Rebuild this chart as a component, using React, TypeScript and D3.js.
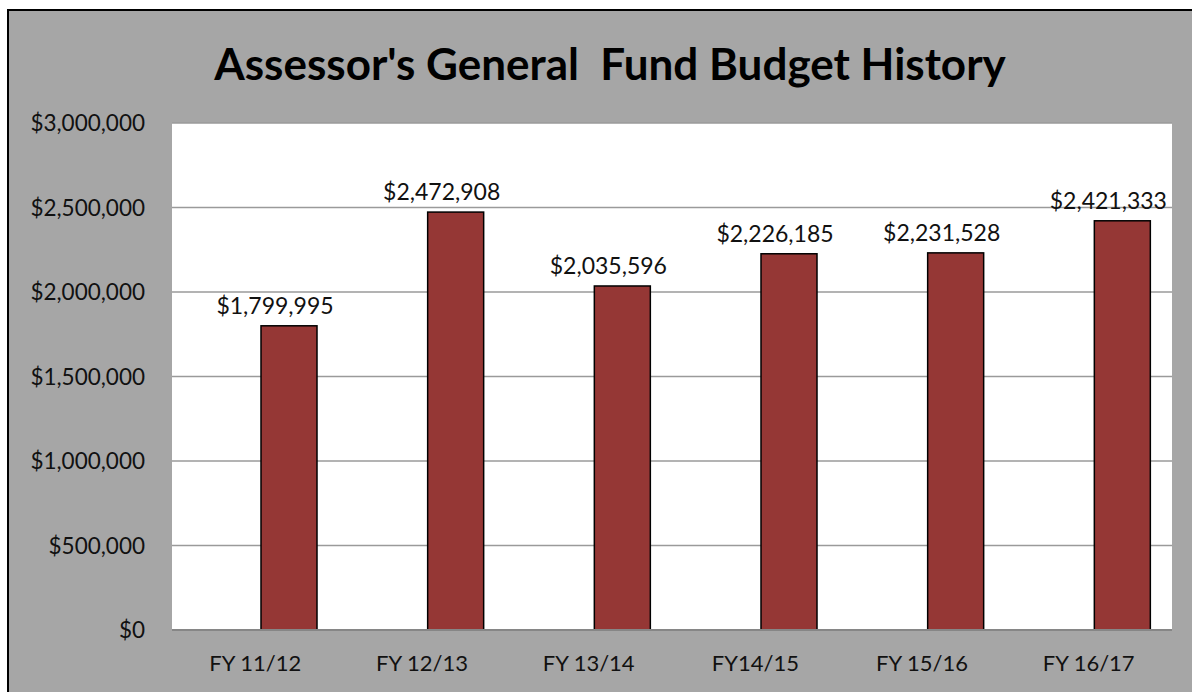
import React, { useRef, useEffect } from 'react';
import * as d3 from 'd3';

const categories = ['FY 11/12', 'FY 12/13', 'FY 13/14', 'FY14/15', 'FY 15/16', 'FY 16/17'];
const budget = [1799995, 2472908, 2035596, 2226185, 2231528, 2421333];
const yTicks = [0, 500000, 1000000, 1500000, 2000000, 2500000, 3000000];

const W = 1192;
const H = 692;
const FONT = 'Lato, "Open Sans", sans-serif';

const App = () => {
  const ref = useRef<SVGSVGElement>(null);

  useEffect(() => {
    const svg = d3.select(ref.current);
    svg.selectAll('*').remove();

    const left = 172, right = 1172, top = 123, bottom = 630;

    // outer chart frame
    svg.append('rect').attr('x', 0).attr('y', 0).attr('width', W).attr('height', H).attr('fill', '#ffffff');
    svg.append('rect').attr('x', 8).attr('y', 10).attr('width', W + 10).attr('height', H + 10)
      .attr('fill', '#a6a6a6').attr('stroke', '#000').attr('stroke-width', 2);

    svg.append('text')
      .attr('x', 610).attr('y', 80)
      .attr('text-anchor', 'middle')
      .attr('font-family', FONT).attr('font-weight', 'bold').attr('font-size', 44)
      .style('white-space', 'pre')
      .text("Assessor's General  Fund Budget History");

    const x = d3.scaleBand().domain(categories).range([left, right]).padding(0);
    const y = d3.scaleLinear().domain([0, 3000000]).range([bottom, top]);

    svg.append('rect').attr('x', left).attr('y', top).attr('width', right - left).attr('height', bottom - top).attr('fill', '#fff');

    // gridlines
    svg.append('g').selectAll('line').data(yTicks.filter(d => d > 0)).enter().append('line')
      .attr('x1', left).attr('x2', right)
      .attr('y1', d => y(d)).attr('y2', d => y(d))
      .attr('stroke', '#9a9a9a').attr('stroke-width', 1.5);

    const fmt = d3.format('$,');

    // y tick labels
    svg.append('g').selectAll('text').data(yTicks).enter().append('text')
      .attr('x', 145).attr('y', d => y(d) + 8)
      .attr('text-anchor', 'end')
      .attr('font-family', FONT).attr('font-size', 22.5).attr('fill', '#111')
      .text(d => fmt(d));

    const bw = x.bandwidth();
    const barW = bw * 0.336;
    const barOff = bw * 0.534;

    const data = categories.map((c, i) => ({ c, v: budget[i] }));

    svg.append('g').selectAll('rect').data(data).enter().append('rect')
      .attr('x', d => (x(d.c) as number) + barOff)
      .attr('y', d => y(d.v))
      .attr('width', barW)
      .attr('height', d => bottom - y(d.v))
      .attr('fill', '#953735').attr('stroke', '#000').attr('stroke-width', 1.5);

    svg.append('g').selectAll('text').data(data).enter().append('text')
      .attr('x', d => (x(d.c) as number) + barOff + barW / 2 - 14)
      .attr('y', d => y(d.v) - 12)
      .attr('text-anchor', 'middle')
      .attr('font-family', FONT).attr('font-size', 23).attr('fill', '#111')
      .text(d => fmt(d.v));

    // x axis line
    svg.append('line').attr('x1', left).attr('x2', right).attr('y1', bottom).attr('y2', bottom)
      .attr('stroke', '#868686').attr('stroke-width', 2);

    svg.append('g').selectAll('text').data(categories).enter().append('text')
      .attr('x', d => (x(d) as number) + bw / 2)
      .attr('y', 671)
      .attr('text-anchor', 'middle')
      .attr('font-family', FONT).attr('font-size', 22).attr('fill', '#111')
      .text(d => d);
  });

  return (
    <svg ref={ref} width={W} height={H} style={{ position: 'absolute', left: 0, top: 0, display: 'block' }}></svg>
  );
};

export default App;
